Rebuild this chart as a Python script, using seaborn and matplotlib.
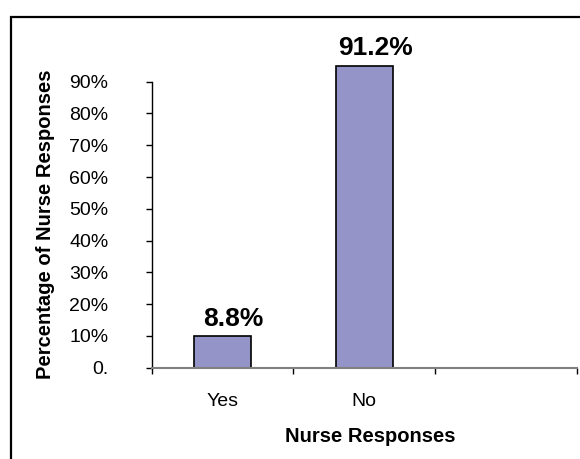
import matplotlib
matplotlib.use("Agg")
import matplotlib.pyplot as plt
from matplotlib.patches import Rectangle
import seaborn as sns
import pandas as pd

# values
categories = ['Yes', 'No', '']
bar_heights = [10, 95]          # drawn heights (percent) as they appear
bar_labels = ['8.8%', '91.2%']  # printed data labels
y_ticks = [0, 10, 20, 30, 40, 50, 60, 70, 80, 90]
y_tick_labels = ['0.', '10%', '20%', '30%', '40%', '50%', '60%', '70%', '80%', '90%']

sns.set_style('white')
plt.rcParams['font.family'] = ['Liberation Sans', 'DejaVu Sans']
plt.rcParams['text.color'] = 'black'
plt.rcParams['axes.labelcolor'] = 'black'
plt.rcParams['xtick.color'] = 'black'
plt.rcParams['ytick.color'] = 'black'

df = pd.DataFrame({'response': categories[:2], 'pct': bar_heights})

fig = plt.figure(figsize=(5.8, 4.59), dpi=100)
ax = fig.add_axes([0.2616, 0.1989, 0.7327, 0.6231])

sns.barplot(data=df, x='response', y='pct', order=categories, color='#9494C8',
            saturation=1, width=0.4, edgecolor='black', linewidth=1.2, ax=ax)
for p in ax.patches:
    p.set_clip_on(False)

# data labels
for i, (h, lab) in enumerate(zip(bar_heights, bar_labels)):
    ax.annotate(lab, (i, h), xytext=(8, 7.5), textcoords='offset points',
                ha='center', va='baseline', fontsize=19, fontweight='bold',
                color='black', annotation_clip=False)

ax.set_ylim(0, 90)
ax.set_yticks(y_ticks)
ax.set_yticklabels(y_tick_labels, fontsize=14)
ax.tick_params(axis='y', direction='out', length=4.3, width=1, color='black', pad=27, left=True)

ax.set_xlim(-0.5, 2.5)
ax.set_xticks([-0.5, 0.5, 1.5, 2.5])
ax.set_xticklabels([])
ax.set_xticks([0, 1, 2], minor=True)
ax.set_xticklabels(categories, minor=True, fontsize=14)
ax.tick_params(axis='x', which='major', direction='out', length=4.3, width=1, color='black', bottom=True)
ax.tick_params(axis='x', which='minor', length=0, pad=18)

for s in ['top', 'right']:
    ax.spines[s].set_visible(False)
ax.spines['left'].set_color('black')
ax.spines['left'].set_linewidth(1)
ax.spines['bottom'].set_color('#808080')
ax.spines['bottom'].set_linewidth(1.5)

ax.set_xlabel('Nurse Responses', fontsize=14.5, fontweight='bold')
ax.xaxis.set_label_coords(0.515, -0.206)
ax.xaxis.label.set_va('top')
ax.set_ylabel('Percentage of Nurse Responses', fontsize=14.5, fontweight='bold')
ax.yaxis.set_label_coords(-0.228, 0.5)

# outer chart border (runs off the right and bottom edges)
fig.add_artist(Rectangle((11 / 580, -0.05), 1.0, 1.0136, transform=fig.transFigure,
                         fill=False, edgecolor='black', linewidth=1.6))

fig.savefig('out.png', dpi=100)
